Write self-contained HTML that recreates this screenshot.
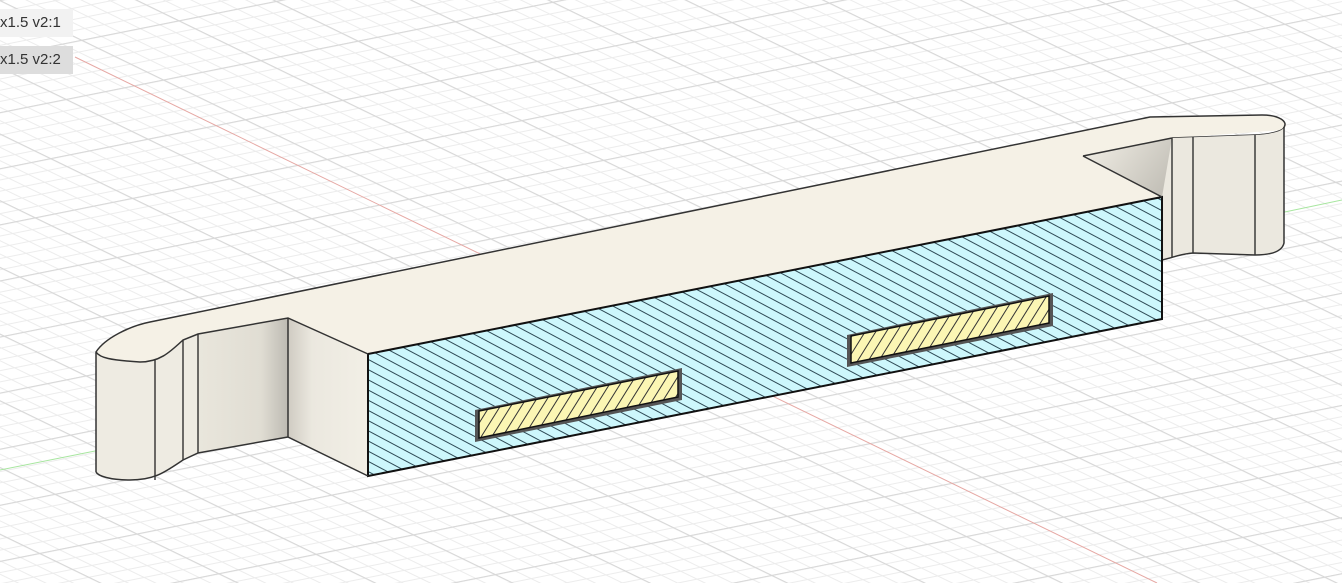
<!DOCTYPE html>
<html><head><meta charset="utf-8"><style>
html,body{margin:0;padding:0;background:#fff;}
.wrap{position:relative;width:1342px;height:583px;overflow:hidden;}
.lbl{position:absolute;left:0;font-family:"Liberation Sans",sans-serif;font-size:15px;color:#333;padding:0 12px 0 0;height:28px;line-height:28px;}
</style></head><body><div class="wrap">
<svg width="1342" height="583" viewBox="0 0 1342 583" xmlns="http://www.w3.org/2000/svg" style="position:absolute;left:0;top:0">
<defs>
<pattern id="gA" patternUnits="userSpaceOnUse" width="2000" height="12" patternTransform="rotate(25.9)">
<line x1="0" y1="0.5" x2="2000" y2="0.5" stroke="#ececec" stroke-width="1"/></pattern>
<pattern id="gA5" patternUnits="userSpaceOnUse" width="2000" height="60" patternTransform="rotate(25.9)">
<line x1="0" y1="0.5" x2="2000" y2="0.5" stroke="#d8d8d8" stroke-width="1.2"/></pattern>
<pattern id="gB" patternUnits="userSpaceOnUse" width="2000" height="11" patternTransform="rotate(-11.3)">
<line x1="0" y1="0.5" x2="2000" y2="0.5" stroke="#ececec" stroke-width="1"/></pattern>
<pattern id="gB5" patternUnits="userSpaceOnUse" width="2000" height="55" patternTransform="rotate(-11.3)">
<line x1="0" y1="0.5" x2="2000" y2="0.5" stroke="#d8d8d8" stroke-width="1.2"/></pattern>
<pattern id="hB" patternUnits="userSpaceOnUse" width="2000" height="9" patternTransform="rotate(28)">
<rect width="2000" height="9" fill="#cdf7fc"/>
<line x1="0" y1="0.5" x2="2000" y2="0.5" stroke="#2e4a55" stroke-width="1"/></pattern>
<pattern id="hY" patternUnits="userSpaceOnUse" width="2000" height="9" patternTransform="rotate(-58)">
<rect width="2000" height="9" fill="#fbf6b4"/>
<line x1="0" y1="0.5" x2="2000" y2="0.5" stroke="#333" stroke-width="1"/></pattern>
<linearGradient id="side" x1="0" y1="0" x2="1" y2="0">
<stop offset="0" stop-color="#cfcbc2"/><stop offset="0.3" stop-color="#ebe8df"/><stop offset="1" stop-color="#f2efe6"/></linearGradient>
<linearGradient id="wall" x1="0" y1="0" x2="1" y2="0">
<stop offset="0" stop-color="#e9e6dc"/><stop offset="0.7" stop-color="#e0ddd3"/><stop offset="1" stop-color="#bdbab2"/></linearGradient>
<linearGradient id="notch" x1="0" y1="0" x2="1" y2="1">
<stop offset="0" stop-color="#f4f1e8"/><stop offset="1" stop-color="#aaa79f"/></linearGradient>
</defs>
<rect width="1342" height="583" fill="url(#gA)"/>
<rect width="1342" height="583" fill="url(#gB)"/>
<rect width="1342" height="583" fill="url(#gA5)"/>
<rect width="1342" height="583" fill="url(#gB5)"/>
<line x1="75" y1="57" x2="1157" y2="583" stroke="#e6a8a4" stroke-width="1"/>
<line x1="0" y1="470" x2="110" y2="448" stroke="#a8e6a0" stroke-width="1"/>
<line x1="1280" y1="213" x2="1342" y2="200" stroke="#a8e6a0" stroke-width="1"/>

<path d="M96,352 C105,338 130,326 150,322 L1150,117 L1262,115 C1285,115 1290,128 1284,127 L1284,130 L1172,138 L1083,156 L1162,197 L368,354 L288,318 L198,334 L183,340 C170,352 160,362 140,362 L110,360 C100,358 96,356 96,352 Z" fill="#f5f1e6"/>
<path d="M1172,138 L1255,135 C1275,134 1284,130 1284,127" fill="none" stroke="#333" stroke-width="1.5"/>
<path d="M1083,156 L1172,138 L1172,257 L1162,260 L1162,197 Z" fill="url(#notch)"/>
<path d="M1172,138 L1255,135 C1275,134 1284,130 1284,127 L1284,243 C1282,252 1270,255 1255,255 L1193,253 C1180,254 1175,257 1165,260 L1162,260 L1162,197 Z" fill="#ebe8df"/>
<path d="M1172,138 L1172,257 M1193,137 L1193,253 M1255,135 L1255,255" stroke="#222" stroke-width="1.3" fill="none"/>
<path d="M1284,127 L1284,243 C1282,252 1270,255 1255,255 L1193,253 C1180,254 1175,257 1162,260" fill="none" stroke="#333" stroke-width="1.5"/>
<path d="M96,352 C100,358 110,360 140,362 C160,362 170,352 183,340 L198,334 L288,318 L288,437 L198,453 L183,460 C165,472 155,480 130,480 C110,480 98,476 96,472 Z" fill="#eeebe2"/>
<path d="M198,334 L288,318 L288,437 L198,453 Z" fill="url(#wall)"/>
<path d="M155,360 L155,480" stroke="#222" stroke-width="1.3"/>
<path d="M183,340 L183,460 M198,334 L198,453" stroke="#222" stroke-width="1.3"/>
<path d="M288,318 L368,354 L368,476 L288,437 Z" fill="url(#side)"/>
<path d="M368,354 L1162,197 L1162,319 L368,476 Z" fill="url(#hB)" stroke="#111" stroke-width="2"/>
<path d="M475,410 L682,368 L682,400 L475,442 Z" fill="#555"/>
<path d="M479,411 L678,371 L678,397 L479,438 Z" fill="url(#hY)" stroke="#111" stroke-width="1.5"/>
<path d="M847,335 L1053,293 L1053,326 L847,367 Z" fill="#555"/>
<path d="M851,336 L1049,296 L1049,323 L851,363 Z" fill="url(#hY)" stroke="#111" stroke-width="1.5"/>
<path d="M96,472 L96,352 C105,338 130,326 150,322 L1150,117 L1262,115 C1280,115 1288,122 1284,127" fill="none" stroke="#333" stroke-width="1.5"/>
<path d="M96,352 C100,358 110,360 140,362 C160,362 170,352 183,340 L198,334 L288,318 L368,354 M288,318 L288,437 L368,476 M96,472 C98,476 110,480 130,480 C155,480 165,472 183,460 L198,453 L288,437 M1083,156 L1172,138 M1083,156 L1162,197" fill="none" stroke="#333" stroke-width="1.5"/>
</svg>
<div class="lbl" style="top:9px;background:#f2f2f2;">x1.5 v2:1</div>
<div class="lbl" style="top:46px;background:#dddddd;">x1.5 v2:2</div>
</div></body></html>
